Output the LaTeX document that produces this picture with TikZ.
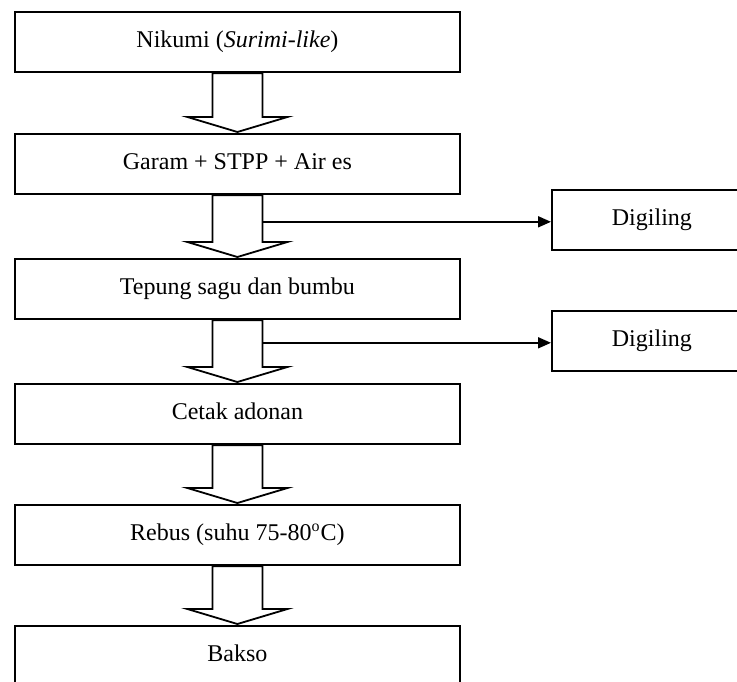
\documentclass[tikz,border=0pt]{standalone}
\usepackage{fontspec}
\setmainfont{Liberation Serif}
\usetikzlibrary{calc,arrows.meta}
\tikzset{
  procbox/.style={draw, line width=0.9pt, rectangle, anchor=north west,
    minimum width=222.5pt, minimum height=30pt, inner sep=0pt,
    text height=8pt, text depth=2.5pt, font=\fontsize{12}{14}\selectfont},
  sidebox/.style={procbox, minimum width=100pt},
  blk/.style={draw, line width=0.9pt, fill=white, line join=miter},
  sidearrow/.style={draw, line width=0.9pt, -{Triangle[length=6.5pt,width=5.5pt]}}
}
\newcommand{\blockarrow}[2]{%
  \draw[blk] ($(#1.south)+(-25,0.5)$) -- ($(#2.north)+(-25,-16)$) -- ($(#2.north)+(-50,-16)$)
    -- ($(#2.north)+(0,-1)$) -- ($(#2.north)+(50,-16)$) -- ($(#2.north)+(25,-16)$) -- ($(#1.south)+(25,0.5)$) -- cycle;}
\begin{document}
\begin{tikzpicture}[x=0.5pt,y=-0.5pt]
\useasboundingbox (0,0) rectangle (737,681);
\clip (0,0) rectangle (737,681);
\node[procbox] (b1) at (14,11) {Nikumi (\textit{Surimi-like})};
\node[procbox] (b2) at (14,133) {Garam + STPP + Air es};
\node[procbox] (b3) at (14,258) {Tepung sagu dan bumbu};
\node[procbox] (b4) at (14,383) {Cetak adonan};
\node[procbox] (b5) at (14,504) {Rebus (suhu 75-80\textsuperscript{o}C)};
\node[procbox] (b6) at (14,625) {Bakso};
\node[sidebox] (d1) at (551,189) {Digiling};
\node[sidebox] (d2) at (551,310) {Digiling};
\blockarrow{b1}{b2}
\blockarrow{b2}{b3}
\blockarrow{b3}{b4}
\blockarrow{b4}{b5}
\blockarrow{b5}{b6}
\coordinate (s1) at ($(b2.south)+(25,27)$);
\coordinate (s2) at ($(b3.south)+(25,23)$);
\draw[sidearrow] (s1) -- (s1 -| d1.west);
\draw[sidearrow] (s2) -- (s2 -| d2.west);
\end{tikzpicture}
\end{document}
